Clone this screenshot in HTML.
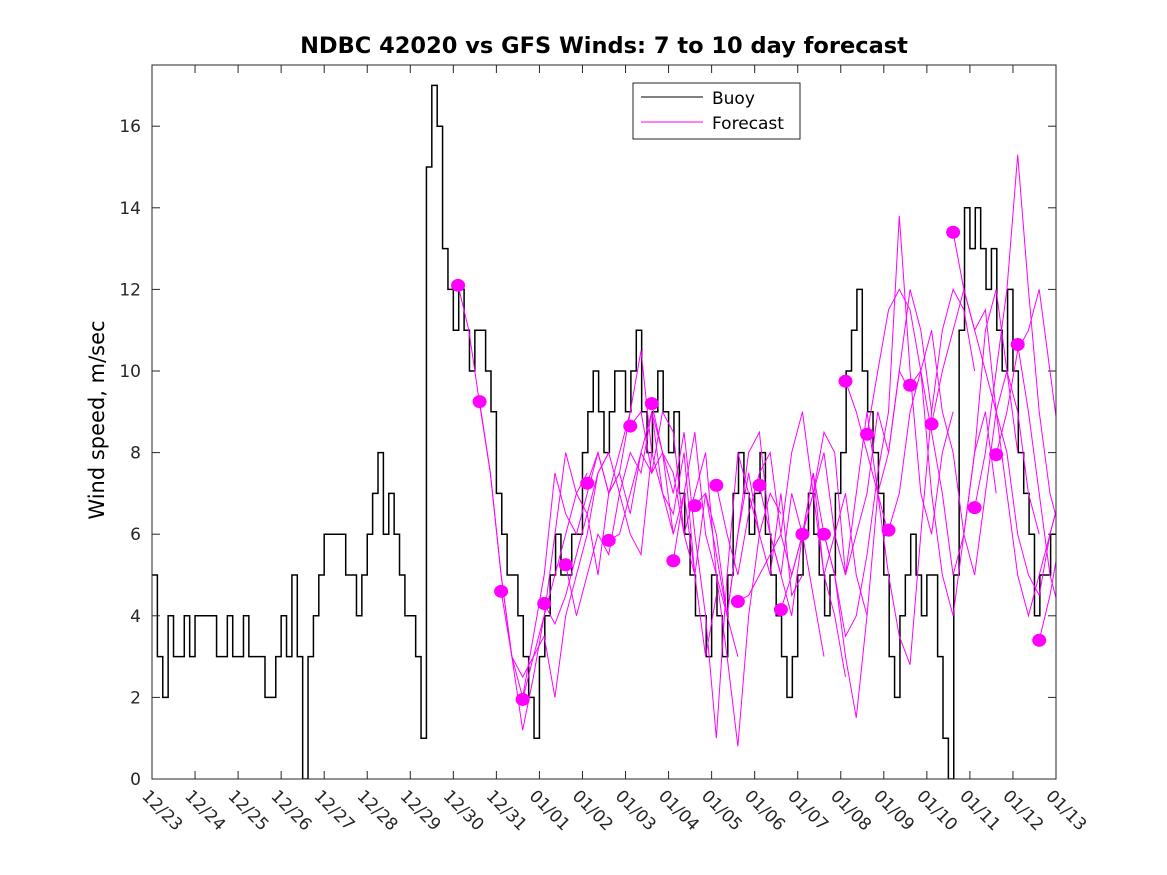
<!DOCTYPE html>
<html><head><meta charset="utf-8"><style>
body{margin:0;background:#fff;}
svg{display:block;font-family:"DejaVu Sans","Liberation Sans",sans-serif;}
</style></head><body>
<svg id="chart" width="1167" height="875" viewBox="0 0 1167 875">
<defs><clipPath id="pc"><rect x="152" y="65" width="904" height="714"/></clipPath></defs>
<rect x="0" y="0" width="1167" height="875" fill="#fff"/>
<text x="604" y="53" text-anchor="middle" font-size="22.5" font-weight="bold">NDBC 42020 vs GFS Winds: 7 to 10 day forecast</text>
<text transform="translate(104,420) rotate(-90)" text-anchor="middle" font-size="21">Wind speed, m/sec</text>
<g id="grid"></g>
<g id="series" clip-path="url(#pc)"></g>
<rect x="152" y="65" width="904" height="714" fill="none" stroke="#262626" stroke-width="1"/>
<g>
<rect x="633" y="83" width="167" height="56" fill="#fff" stroke="#262626"/>
<line x1="641" y1="97" x2="703" y2="97" stroke="#000"/>
<text x="712" y="104" font-size="17">Buoy</text>
<line x1="641" y1="122" x2="703" y2="122" stroke="#f0f"/>
<text x="712" y="129" font-size="17">Forecast</text>
</g>
</svg>
<script>
const xLabels=["12/23","12/24","12/25","12/26","12/27","12/28","12/29","12/30","12/31","01/01","01/02","01/03","01/04","01/05","01/06","01/07","01/08","01/09","01/10","01/11","01/12","01/13"];
const yTicks=[0,2,4,6,8,10,12,14,16];
const buoy=[5,3,2,4,3,3,4,3, 4,4,4,4,3,3,4,3, 3,4,3,3,3,2,2,3, 4,3,5,3,0,3,4,5, 6,6,6,6,5,5,4,5, 6,7,8,6,7,6,5,4, 4,3,1,15,17,16,13,12, 11,12,11,10,11,11,10,9, 7,6,5,5,4,3,2,1, 3,4,5,6,5,5,6,6, 8,9,10,9,8,9,10,10, 9,10,11,9,8,9,10,9, 8,9,7,6,5,4,4,3, 5,4,3,5,7,8,7,6, 7,8,6,5,4,3,2,3, 5,6,7,6,5,4,5,7, 8,10,11,12,10,9,8,7, 5,3,2,4,5,6,5,4, 5,5,3,1,0,5,11,14, 13,14,13,12,13,11,10,12, 10,8,7,6,4,5,5,6];
const fcStart=7.11;
const fc=[
[12.1,11,9.2,7.5,5,3,2.5,3,4,5,6,7,7.5],
[9.25,7.5,5,3,1.2,2.5,4,6,8,7,6.5,7.5,8],
[4.6,3,2,3.5,5,7.5,6.5,6,7,8,7,7.5,9],
[1.95,3,3.5,2,4,5,6,7.5,8,7,6,5.5,8],
[4.3,3.8,4.5,5.5,6.5,5,7,7.5,6.5,8,9,7,6],
[5.25,4,5,6,5.5,7,8,7.5,9,8,6,7,5],
[7.25,8,7,8,9,10.5,8,7,6.5,8,5,3,4.5],
[5.85,6,7,8,7.5,9,8.5,6,5,7,6,4,3],
[8.65,9,7.5,8,7,8.5,6,4,1,5,8,7,6],
[9.2,8,7.5,6,7,8,5,3,0.8,4,6,7,6.5],
[5.35,7,8.5,6,5,4,6,7.5,6,5,7,4.5,5],
[6.7,7,5.5,4,6,8,8.5,6,5,7,6,4.5,3],
[7.2,6,5,6.5,7.5,8,6,5,6,7.5,5,4,2.5],
[4.35,4.5,5,5.5,6,8,9,7,5,6,7,5,4],
[7.2,6,5,4,6,7,8,6,5,7,9,7,6],
[4.15,5,6,7.5,6,5,3,1.5,4,7,8,10,9.5],
[6.0,7,8.5,8,5,6,7,9,8,10,12,11,9],
[6.0,5,3.5,4,5.5,7.5,9,13.8,10,7,6,8,9],
[9.75,9,8,7,5,3.5,2.8,6,9,11,12,11.5,10],
[8.45,10,11.5,12,11.5,10,7,5,4,6,8,9,7],
[6.1,7,9,10,11,9,8,6,5,7,9,10,8],
[9.65,10,8.5,7,5,6,8,11,12,10,9,7,6],
[8.7,10,11,12,11,10,9,8,6,5,4.5,6,7],
[13.4,12,11,11.5,9,7,5,4,5,6,7,8,7],
[6.65,8,10,12,15.3,12,9,7,6,5,4.5,6,5],
[7.95,9,10.5,11,12,10,8,7,6,5,4,5,6.5],
[10.65,9,7,5,4,5,6,7,6.5,8,10],
[3.4,4.5,6,7,7.5,8]
];
const X0=152,X1=1056,Y0=779,Y1=65,XMAX=21,YMAX=17.5;
const sx=d=>X0+d*(X1-X0)/XMAX, sy=v=>Y0-v*(Y0-Y1)/YMAX;
const NS="http://www.w3.org/2000/svg";
const grid=document.getElementById('grid'),ser=document.getElementById('series');
function mk(t,a,p){const e=document.createElementNS(NS,t);for(const k in a)e.setAttribute(k,a[k]);p.appendChild(e);return e;}
xLabels.forEach((l,i)=>{const x=sx(i);
 const t1=mk('line',{x1:x,y1:Y0,x2:x,y2:Y0-8,stroke:'#262626'},grid);
 
 
 mk('line',{x1:x,y1:Y1,x2:x,y2:Y1+8,stroke:'#262626'},grid);
 const t=mk('text',{transform:`translate(${x-11},797) rotate(45)`,'font-size':17,fill:'#262626'},grid);t.textContent=l;
 
 
});
yTicks.forEach(v=>{const y=sy(v);
 mk('line',{x1:X0,y1:y,x2:X0+8,y2:y,stroke:'#262626'},grid);
 mk('line',{x1:X1,y1:y,x2:X1-8,y2:y,stroke:'#262626'},grid);
 const t=mk('text',{x:141,y:y+6,'text-anchor':'end','font-size':17,fill:'#262626'},grid);t.textContent=v;
 
 
});
let d='';const st=1/8;
buoy.forEach((v,i)=>{const x=sx(i*st),y=sy(v);d+=(i?`L${x},${y}`:`M${x},${y}`)+`H${sx((i+1)*st)}`;});
const bp=mk('path',{d:d,fill:'none',stroke:'#000','stroke-width':1.5},ser);


fc.forEach((s,j)=>{const s0=fcStart+0.5*j;
 const pts=s.map((v,i)=>`${sx(s0+i*0.25)},${sy(v)}`).join(' ');
 const p=mk('polyline',{points:pts,fill:'none',stroke:'#f0f','stroke-width':1},ser);
 
 
});
fc.forEach((s,j)=>{
 const c=mk('ellipse',{cx:sx(fcStart+0.5*j),cy:sy(s[0]),rx:7,ry:6.5,fill:'#f0f'},ser);
 
 
});
</script>
</body></html>
